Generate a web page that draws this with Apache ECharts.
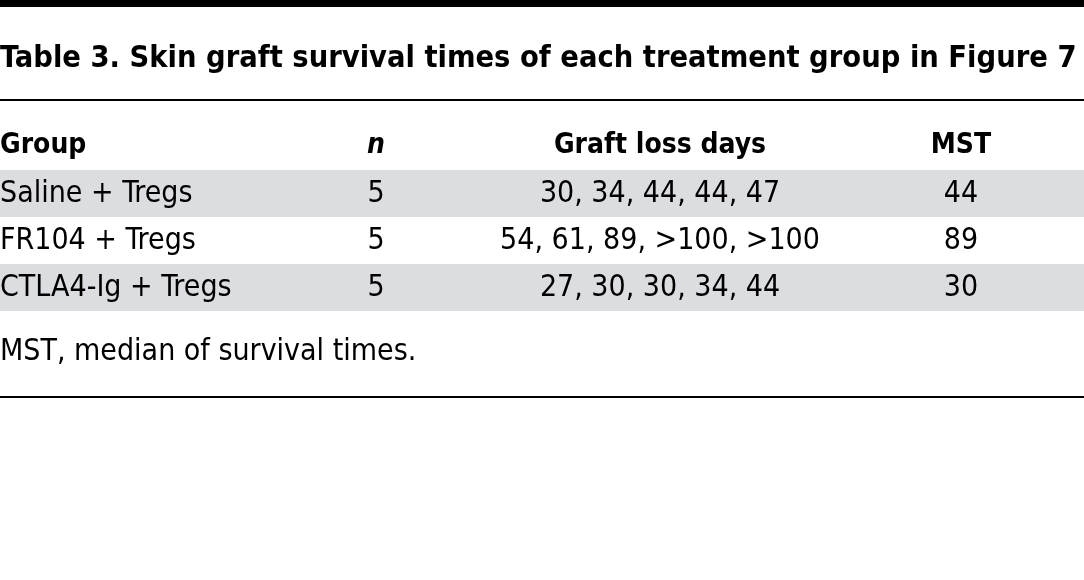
<!DOCTYPE html>
<html><head><meta charset="utf-8">
<script src="https://cdn.jsdelivr.net/npm/echarts@6/dist/echarts.min.js"></script>
<style>html,body{margin:0;padding:0;background:#fff}#c{width:1084px;height:580px}</style>
</head><body><div id="c"></div>
<script>
const title = 'Table 3. Skin graft survival times of each treatment group in Figure 7';
const headers = ['Group', 'n', 'Graft loss days', 'MST'];
const groups = ['Saline + Tregs', 'FR104 + Tregs', 'CTLA4-Ig + Tregs'];
const nValues = [5, 5, 5];
const graftLossDays = ['30, 34, 44, 44, 47', '54, 61, 89, >100, >100', '27, 30, 30, 34, 44'];
const mst = [44, 89, 30];
const footnote = 'MST, median of survival times.';

const FONT = '"Liberation Sans Narrow", "DejaVu Sans Condensed", sans-serif';
const colX = [0, 376, 660, 961];
const colAlign = ['left', 'center', 'center', 'center'];
const bodySize = 30;
const headSize = 28;

const chart = echarts.init(document.getElementById('c'), null, {renderer: 'canvas'});
chart.setOption({
  animation: false,
  backgroundColor: '#fff',
  grid: {left: 0, right: 0, top: 170, height: 141},
  xAxis: {type: 'value', min: 0, max: 1084, show: false},
  yAxis: {type: 'category', data: groups, inverse: true, show: false},
  graphic: [
    {type: 'rect', shape: {x: 0, y: 0, width: 1084, height: 7}, style: {fill: '#000'}},
    {type: 'text', x: 0, y: 59, style: {text: title, font: 'bold 30.5px ' + FONT, fill: '#000', textVerticalAlign: 'middle'}},
    {type: 'rect', shape: {x: 0, y: 99, width: 1084, height: 2}, style: {fill: '#000'}},
    ...headers.map((h, j) => ({type: 'text', x: colX[j], y: 146,
      style: {text: h, font: (j === 1 ? 'italic ' : '') + 'bold ' + headSize + 'px ' + FONT, fill: '#000', textAlign: colAlign[j], textVerticalAlign: 'middle'}})),
    {type: 'text', x: 0, y: 352, style: {text: footnote, font: bodySize + 'px ' + FONT, fill: '#000', textVerticalAlign: 'middle'}},
    {type: 'rect', shape: {x: 0, y: 396, width: 1084, height: 2}, style: {fill: '#000'}}
  ],
  series: [{
    type: 'custom',
    data: groups.map((g, i) => [i, g, nValues[i], graftLossDays[i], mst[i]]),
    encode: {y: 0},
    renderItem: function (params, api) {
      const i = api.value(0);
      const c = api.coord([0, i]);
      const h = api.size([0, 1])[1];
      const row = params.dataIndex;
      const cells = [groups[row], String(nValues[row]), graftLossDays[row], String(mst[row])];
      const children = [];
      if (row % 2 === 0) {
        children.push({type: 'rect', shape: {x: 0, y: c[1] - h / 2, width: 1084, height: h}, style: {fill: '#dcdde0'}});
      }
      cells.forEach((t, j) => {
        const p = api.coord([colX[j], i]);
        children.push({type: 'text', x: p[0], y: p[1] + 1,
          style: {text: t, font: bodySize + 'px ' + FONT, fill: '#000', textAlign: colAlign[j], textVerticalAlign: 'middle'}});
      });
      return {type: 'group', children};
    }
  }]
});
</script></body></html>
